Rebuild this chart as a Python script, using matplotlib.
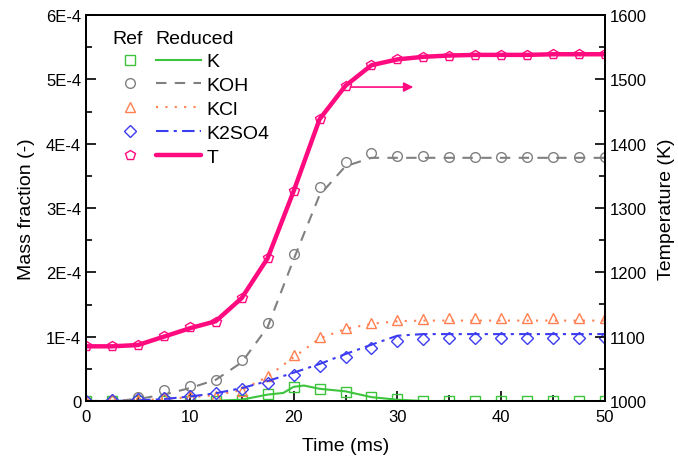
import matplotlib
matplotlib.use("Agg")
import matplotlib.pyplot as plt
from matplotlib.ticker import MultipleLocator, FuncFormatter
import numpy as np

plt.rcParams["font.family"] = ["Liberation Sans", "DejaVu Sans"]

# -------------------------
# Data (mass fractions in units of 1E-4, temperature in K)
# -------------------------
t_ref = [0, 2.5, 5, 7.5, 10, 12.5, 15, 17.5, 20, 22.5, 25, 27.5, 30,
         32.5, 35, 37.5, 40, 42.5, 45, 47.5, 50]

K_ref = [0, 0, 0, 0, 0, 0.005, 0.02, 0.11, 0.22, 0.19, 0.14, 0.057, 0.03,
         0.005, 0, 0, 0, 0, 0, 0, 0]
KOH_ref = [0, 0.005, 0.057, 0.17, 0.24, 0.33, 0.63, 1.21, 2.29, 3.32, 3.72, 3.85, 3.81,
           3.81, 3.80, 3.80, 3.80, 3.80, 3.80, 3.80, 3.80]
KCl_ref = [0, 0.03, 0.02, 0.06, 0.07, 0.08, 0.16, 0.39, 0.715, 0.99, 1.13, 1.22, 1.26,
           1.275, 1.285, 1.29, 1.29, 1.29, 1.29, 1.29, 1.29]
K2SO4_ref = [0, 0.02, 0.03, 0.04, 0.07, 0.12, 0.19, 0.285, 0.41, 0.545, 0.69, 0.825, 0.94,
             0.965, 0.975, 0.975, 0.975, 0.975, 0.975, 0.975, 0.975]
T_ref = [1085, 1085, 1087, 1101, 1115, 1123, 1160, 1222, 1326, 1438, 1489, 1523, 1532,
         1535, 1537, 1538, 1538, 1538, 1539, 1539, 1539]

t_red = t_ref
t_K_red = [0, 2.5, 5, 7.5, 10, 12.5, 15, 17.5, 19, 20, 21, 22.5, 25, 27.5, 30,
           32.5, 35, 37.5, 40, 42.5, 45, 47.5, 50]
K_red = [0, 0, 0, 0, 0, 0.005, 0.02, 0.1, 0.125, 0.22, 0.24, 0.19, 0.15, 0.06, 0.02,
         0, 0, 0, 0, 0, 0, 0, 0]
KOH_red = [0, 0, 0.03, 0.1, 0.2, 0.33, 0.6, 1.15, 2.2, 3.2, 3.65, 3.78, 3.78,
           3.78, 3.78, 3.78, 3.78, 3.78, 3.78, 3.78, 3.78]
KCl_red = [0, 0, 0.01, 0.03, 0.06, 0.09, 0.17, 0.38, 0.68, 0.97, 1.12, 1.2, 1.24,
           1.25, 1.25, 1.25, 1.25, 1.25, 1.25, 1.25, 1.25]
K2SO4_red = [0, 0, 0.01, 0.03, 0.07, 0.12, 0.2, 0.31, 0.44, 0.575, 0.73, 0.875, 1.015,
             1.04, 1.04, 1.04, 1.04, 1.04, 1.04, 1.04, 1.04]
T_red = [1085, 1085, 1087, 1100, 1113, 1124, 1160, 1222, 1326, 1438, 1490, 1522, 1531,
         1535, 1537, 1538, 1538, 1538, 1539, 1539, 1539]

species = ["K", "KOH", "KCl", "K2SO4"]
colors = {"K": "#3dc43d", "KOH": "#808080", "KCl": "#ff7f50", "K2SO4": "#3c3cf0", "T": "#ff0a7f"}
SCALE = 1e-4

# -------------------------
# Figure
# -------------------------
fig = plt.figure(figsize=(6.78, 4.64), dpi=100)
ax = fig.add_axes([86 / 678, 1 - 402 / 464, (605 - 86) / 678, (402 - 16) / 464])
ax2 = ax.twinx()

ref_data = {"K": K_ref, "KOH": KOH_ref, "KCl": KCl_ref, "K2SO4": K2SO4_ref}
red_data = {"K": (t_K_red, K_red), "KOH": (t_red, KOH_red),
            "KCl": (t_red, KCl_red), "K2SO4": (t_red, K2SO4_red)}
mk = {"K": "s", "KOH": "o", "KCl": "^", "K2SO4": "D", "T": "p"}
msz = {"K": 6.5, "KOH": 7, "KCl": 7.5, "K2SO4": 6, "T": 7.5}
ls = {"K": "-", "KOH": (0, (5, 4)), "KCl": (0, (1, 3.5)), "K2SO4": (0, (6, 2.5, 1.5, 2.5))}

ref_handles = []
red_handles = []
for sp in species:
    c = colors[sp]
    t, y = red_data[sp]
    (ln,) = ax.plot(t, np.array(y) * SCALE, color=c, linestyle=ls[sp], lw=1.5)
    (m,) = ax.plot(t_ref, np.array(ref_data[sp]) * SCALE, linestyle="none", marker=mk[sp],
                   markersize=msz[sp], markerfacecolor="none", markeredgecolor=c, markeredgewidth=1.0)
    ref_handles.append(m)
    red_handles.append(ln)

(lnT,) = ax2.plot(t_red, T_red, color=colors["T"], lw=3.2, solid_capstyle="round",
                  solid_joinstyle="round")
(mT,) = ax2.plot(t_ref, T_ref, linestyle="none", marker=mk["T"], markersize=msz["T"],
                 markerfacecolor="none", markeredgecolor=colors["T"], markeredgewidth=1.0)
ref_handles.append(mT)
red_handles.append(lnT)

# arrow pointing to the temperature axis
ax.annotate("", xy=(31.8, 4.88e-4), xytext=(25.2, 4.88e-4),
            arrowprops=dict(arrowstyle="-|>", color=colors["T"], lw=1.2, mutation_scale=14))

# axes
ax.set_xlim(0, 50)
ax.set_ylim(0, 6e-4)
ax2.set_ylim(1000, 1600)
ax.xaxis.set_major_locator(MultipleLocator(10))
ax.xaxis.set_minor_locator(MultipleLocator(5))
ax.yaxis.set_major_locator(MultipleLocator(1e-4))
ax.yaxis.set_minor_locator(MultipleLocator(0.5e-4))
ax2.yaxis.set_major_locator(MultipleLocator(100))
ax2.yaxis.set_minor_locator(MultipleLocator(50))
ax.yaxis.set_major_formatter(FuncFormatter(lambda v, p: "0" if abs(v) < 1e-9 else f"{v / SCALE:.0f}E-4"))

for a in (ax, ax2):
    a.tick_params(which="major", direction="in", length=7, width=1.2, labelsize=12)
    a.tick_params(which="minor", direction="in", length=4, width=1.2)
    for s in a.spines.values():
        s.set_linewidth(1.3)
ax.tick_params(axis="x", pad=6)

ax.set_xlabel("Time (ms)", fontsize=14, labelpad=9)
ax.set_ylabel("Mass fraction (-)", fontsize=14, labelpad=8)
ax2.set_ylabel("Temperature (K)", fontsize=14, labelpad=8)

# legend: Ref markers | Reduced lines
leg = ax2.legend(ref_handles + red_handles, [""] * 5 + species + ["T"], ncol=2,
                 loc="upper left", bbox_to_anchor=(0.042, 0.902), frameon=False,
                 fontsize=14, handlelength=2.3, handletextpad=0.28, columnspacing=-0.1,
                 labelspacing=0.32, borderpad=0, borderaxespad=0)
ax2.text(0.051, 0.94, "Ref", transform=ax2.transAxes, fontsize=14, va="center", ha="left")
ax2.text(0.134, 0.94, "Reduced", transform=ax2.transAxes, fontsize=14, va="center", ha="left")

fig.savefig("out.png", dpi=100)
